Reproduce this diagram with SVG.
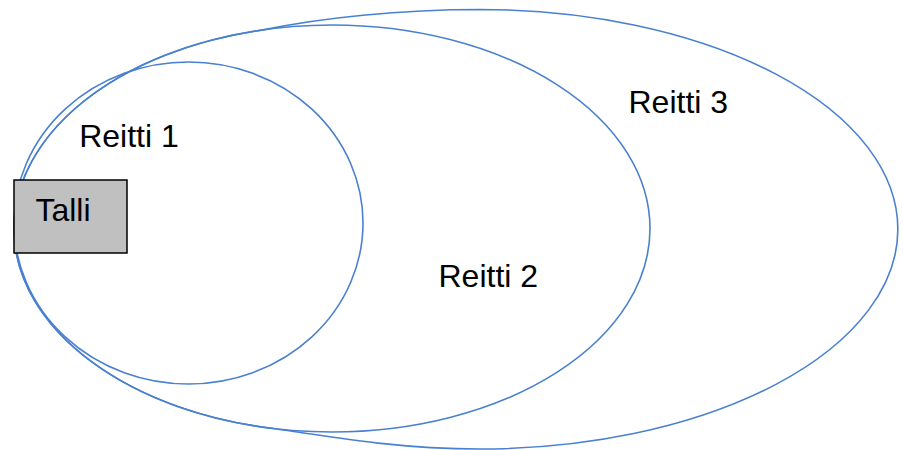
<svg xmlns="http://www.w3.org/2000/svg" width="903" height="450" viewBox="0 0 903 450">
<style>
.route{fill:none;stroke:#4a80d0;stroke-width:1.6}
.lbl{font-family:"Liberation Sans",Arial,sans-serif;font-size:32px;fill:#000}
</style>
<rect width="903" height="450" fill="#fff"/>
<g id="reitti3"><path class="route" d="M 480 9.5 C 400 9.5 320 18 263 29.9 A 318 203.5 0 0 0 277 429 C 330 437 400 449 480 449 A 418 219.75 0 0 0 480 9.5 Z"/><text class="lbl" x="628.5" y="113">Reitti 3</text></g>
<g id="reitti2"><ellipse class="route" cx="332" cy="228.5" rx="318" ry="203.5"/><text class="lbl" x="438.5" y="287">Reitti 2</text></g>
<g id="reitti1"><ellipse class="route" cx="188.5" cy="223" rx="174.5" ry="161"/><text class="lbl" x="79.2" y="147">Reitti 1</text></g>
<g id="talli"><rect x="14" y="180" width="113" height="73" fill="#c0c0c0" stroke="#000" stroke-width="1.5"/><text class="lbl" x="35.4" y="221">Talli</text></g>
<g id="connectors"/>
</svg>
